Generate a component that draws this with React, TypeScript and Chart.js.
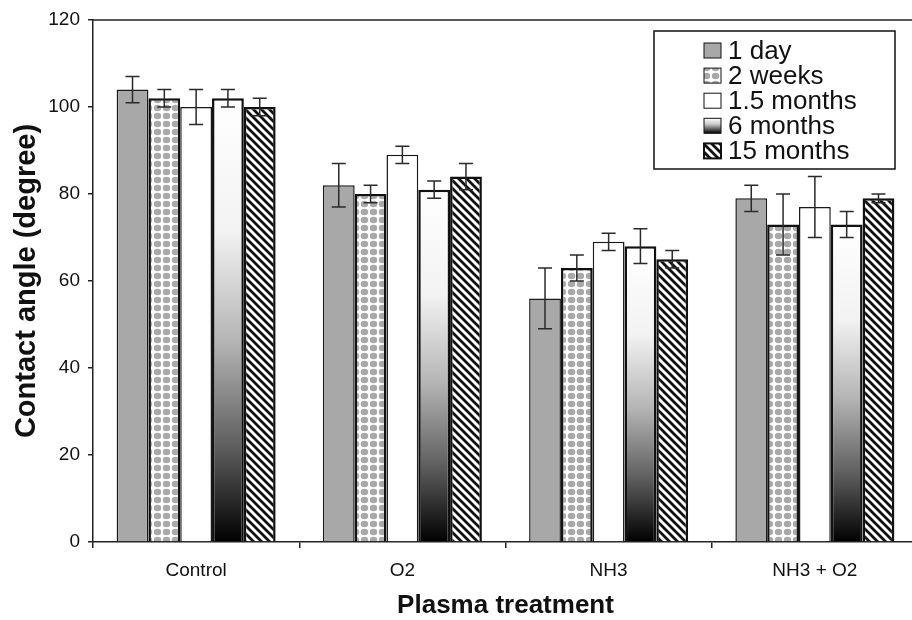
import React, { useEffect, useRef } from "react";
import { Chart, registerables } from "chart.js";

Chart.register(...registerables);

// ---- data ----
const categories = ["Control", "O2", "NH3", "NH3 + O2"];
const seriesNames = ["1 day", "2 weeks", "1.5 months", "6 months", "15 months"];

const oneDay = [104, 82, 56, 79];
const oneDayErr = [3, 5, 7, 3];
const twoWeeks = [102, 80, 63, 73];
const twoWeeksErr = [2, 2, 3, 7];
const oneHalfMonths = [100, 89, 69, 77];
const oneHalfMonthsErr = [4, 2, 2, 7];
const sixMonths = [102, 81, 68, 73];
const sixMonthsErr = [2, 2, 4, 3];
const fifteenMonths = [100, 84, 65, 79];
const fifteenMonthsErr = [2, 3, 2, 1];

const yMin = 0;
const yMax = 120;
const yStep = 20;

const xTitle = "Plasma treatment";
const yTitle = "Contact angle (degree)";

const FONT = '"Liberation Sans", Arial, Helvetica, sans-serif';

function makeDotPattern(): CanvasPattern | string {
  const w = 9;
  const h = 8;
  const c = document.createElement("canvas");
  c.width = w;
  c.height = h;
  const g = c.getContext("2d");
  if (!g) return "#ccc";
  g.fillStyle = "#ffffff";
  g.fillRect(0, 0, w, h);
  g.fillStyle = "#a9a9a9";
  g.beginPath();
  g.ellipse(w / 2, h / 2, 3.7, 3.3, 0, 0, Math.PI * 2);
  g.fill();
  return g.createPattern(c, "repeat") || "#ccc";
}

function makeStripePattern(): CanvasPattern | string {
  const s = 8;
  const c = document.createElement("canvas");
  c.width = s;
  c.height = s;
  const g = c.getContext("2d");
  if (!g) return "#777";
  g.fillStyle = "#ffffff";
  g.fillRect(0, 0, s, s);
  g.strokeStyle = "#111111";
  g.lineWidth = 2.7;
  for (const off of [-s, 0, s]) {
    g.beginPath();
    g.moveTo(off - 1, -1);
    g.lineTo(off + s + 1, s + 1);
    g.stroke();
  }
  return g.createPattern(c, "repeat") || "#777";
}

function addGrayStops(gr: CanvasGradient) {
  gr.addColorStop(0, "#ffffff");
  gr.addColorStop(0.3, "#f2f2f2");
  gr.addColorStop(0.55, "#b4b4b4");
  gr.addColorStop(0.78, "#606060");
  gr.addColorStop(1, "#000000");
}

const errorBarPlugin = {
  id: "errorBars",
  afterDatasetsDraw(chart: any) {
    const ctx = chart.ctx;
    const yScale = chart.scales.y;
    ctx.save();
    ctx.strokeStyle = "#2a2a2a";
    ctx.lineWidth = 1.5;
    chart.data.datasets.forEach((ds: any, di: number) => {
      const meta = chart.getDatasetMeta(di);
      const errs: number[] = ds.errors || [];
      meta.data.forEach((bar: any, i: number) => {
        const v = ds.data[i];
        const e = errs[i];
        if (e == null) return;
        const x = bar.x;
        const yt = yScale.getPixelForValue(v + e);
        const yb = yScale.getPixelForValue(v - e);
        const cap = 7;
        ctx.beginPath();
        ctx.moveTo(x, yt);
        ctx.lineTo(x, yb);
        ctx.moveTo(x - cap, yt);
        ctx.lineTo(x + cap, yt);
        ctx.moveTo(x - cap, yb);
        ctx.lineTo(x + cap, yb);
        ctx.stroke();
      });
    });
    ctx.restore();
  },
};

const frameAndLegendPlugin = {
  id: "frameAndLegend",
  afterDraw(chart: any) {
    const ctx = chart.ctx;
    const area = chart.chartArea;
    ctx.save();
    // top frame line
    ctx.strokeStyle = "#222";
    ctx.lineWidth = 1.5;
    ctx.beginPath();
    ctx.moveTo(area.left, area.top);
    ctx.lineTo(area.right, area.top);
    ctx.stroke();

    // legend box
    const bx = 654;
    const by = 31;
    const bw = 241;
    const bh = 138;
    ctx.fillStyle = "#ffffff";
    ctx.fillRect(bx, by, bw, bh);
    ctx.strokeStyle = "#111";
    ctx.lineWidth = 1.5;
    ctx.strokeRect(bx, by, bw, bh);

    const rowStart = 50.5;
    const rowStep = 25.1;
    const swX = 704;
    const swW = 17;
    const swH = 15;
    const textX = 728;
    ctx.font = `26px ${FONT}`;
    ctx.textBaseline = "middle";
    ctx.textAlign = "left";
    chart.data.datasets.forEach((ds: any, di: number) => {
      const cy = rowStart + di * rowStep;
      const sy = cy - swH / 2;
      let fill: any = ds.legendFill;
      if (ds.legendGradient) {
        const gr = ctx.createLinearGradient(0, sy, 0, sy + swH);
        gr.addColorStop(0, "#ffffff");
        gr.addColorStop(0.4, "#c8c8c8");
        gr.addColorStop(1, "#000000");
        fill = gr;
      }
      ctx.fillStyle = fill;
      ctx.fillRect(swX, sy, swW, swH);
      ctx.strokeStyle = "#111";
      ctx.lineWidth = ds.legendBorder || 1;
      ctx.strokeRect(swX, sy, swW, swH);
      ctx.fillStyle = "#111";
      ctx.fillText(ds.label, textX, cy + 1);
    });
    ctx.restore();
  },
};

export default function App() {
  const canvasRef = useRef<HTMLCanvasElement | null>(null);

  useEffect(() => {
    const canvas = canvasRef.current;
    if (!canvas) return;
    const dots = makeDotPattern();
    const stripes = makeStripePattern();

    const gradientFill = (ctx: any) => {
      const chart = ctx.chart;
      const area = chart.chartArea;
      if (!area || ctx.type !== "data") return "#888888";
      const ys = chart.scales.y;
      const top = ys.getPixelForValue(sixMonths[ctx.dataIndex]);
      const bottom = ys.getPixelForValue(0);
      const gr = chart.ctx.createLinearGradient(0, top, 0, bottom);
      addGrayStops(gr);
      return gr;
    };

    const chart = new Chart(canvas, {
      type: "bar",
      data: {
        labels: categories,
        datasets: [
          {
            label: seriesNames[0],
            data: oneDay,
            errors: oneDayErr,
            backgroundColor: "#a8a8a8",
            borderColor: "#1a1a1a",
            borderWidth: 1.5,
            legendFill: "#a8a8a8",
            legendBorder: 1,
          } as any,
          {
            label: seriesNames[1],
            data: twoWeeks,
            errors: twoWeeksErr,
            backgroundColor: dots,
            borderColor: "#111111",
            borderWidth: 2.5,
            legendFill: dots,
            legendBorder: 1,
          } as any,
          {
            label: seriesNames[2],
            data: oneHalfMonths,
            errors: oneHalfMonthsErr,
            backgroundColor: "#ffffff",
            borderColor: "#1a1a1a",
            borderWidth: 1.5,
            legendFill: "#ffffff",
            legendBorder: 1,
          } as any,
          {
            label: seriesNames[3],
            data: sixMonths,
            errors: sixMonthsErr,
            backgroundColor: gradientFill,
            borderColor: "#111111",
            borderWidth: 2.5,
            legendGradient: true,
            legendBorder: 1,
          } as any,
          {
            label: seriesNames[4],
            data: fifteenMonths,
            errors: fifteenMonthsErr,
            backgroundColor: stripes,
            borderColor: "#111111",
            borderWidth: 2.5,
            legendFill: stripes,
            legendBorder: 2,
          } as any,
        ],
      },
      options: {
        responsive: false,
        animation: false,
        devicePixelRatio: 1,
        layout: { padding: { top: 20, left: 0, right: 0, bottom: 0 } },
        datasets: {
          bar: {
            categoryPercentage: 0.771,
            barPercentage: 1,
            borderSkipped: "start",
          },
        },
        plugins: {
          legend: { display: false },
          tooltip: { enabled: false },
          title: { display: false },
        },
        scales: {
          x: {
            offset: true,
            grid: {
              offset: true,
              drawOnChartArea: false,
              drawTicks: true,
              tickLength: 6,
              color: "#222",
              lineWidth: 1.5,
            },
            border: { display: true, color: "#222", width: 1.5 },
            ticks: {
              color: "#111",
              font: { family: FONT, size: 19 },
              padding: 11,
              maxRotation: 0,
            },
            title: {
              display: true,
              text: xTitle,
              color: "#111",
              font: { family: FONT, size: 26, weight: "bold", lineHeight: 1.1 },
              padding: 0,
            },
            afterFit: (axis: any) => {
              axis.height = 78;
            },
          },
          y: {
            min: yMin,
            max: yMax,
            ticks: {
              stepSize: yStep,
              color: "#111",
              font: { family: FONT, size: 19 },
              padding: 8,
            },
            grid: {
              drawOnChartArea: false,
              drawTicks: true,
              tickLength: 5,
              color: "#222",
              lineWidth: 1.5,
            },
            border: { display: true, color: "#222", width: 1.5 },
            title: {
              display: true,
              text: yTitle,
              color: "#111",
              font: { family: FONT, size: 29, weight: "bold", lineHeight: 1.2 },
              padding: { top: 10, bottom: 0 },
            },
            afterFit: (axis: any) => {
              axis.width = 93;
            },
          },
        },
      } as any,
      plugins: [errorBarPlugin, frameAndLegendPlugin],
    });

    return () => {
      chart.destroy();
    };
  }, []);

  return (
    <div
      style={{
        position: "fixed",
        left: 0,
        top: 0,
        width: 912,
        height: 620,
        overflow: "hidden",
        background: "#ffffff",
      }}
    >
      <canvas
        ref={canvasRef}
        width={918}
        height={620}
        style={{ width: 918, height: 620, display: "block" }}
      />
    </div>
  );
}
